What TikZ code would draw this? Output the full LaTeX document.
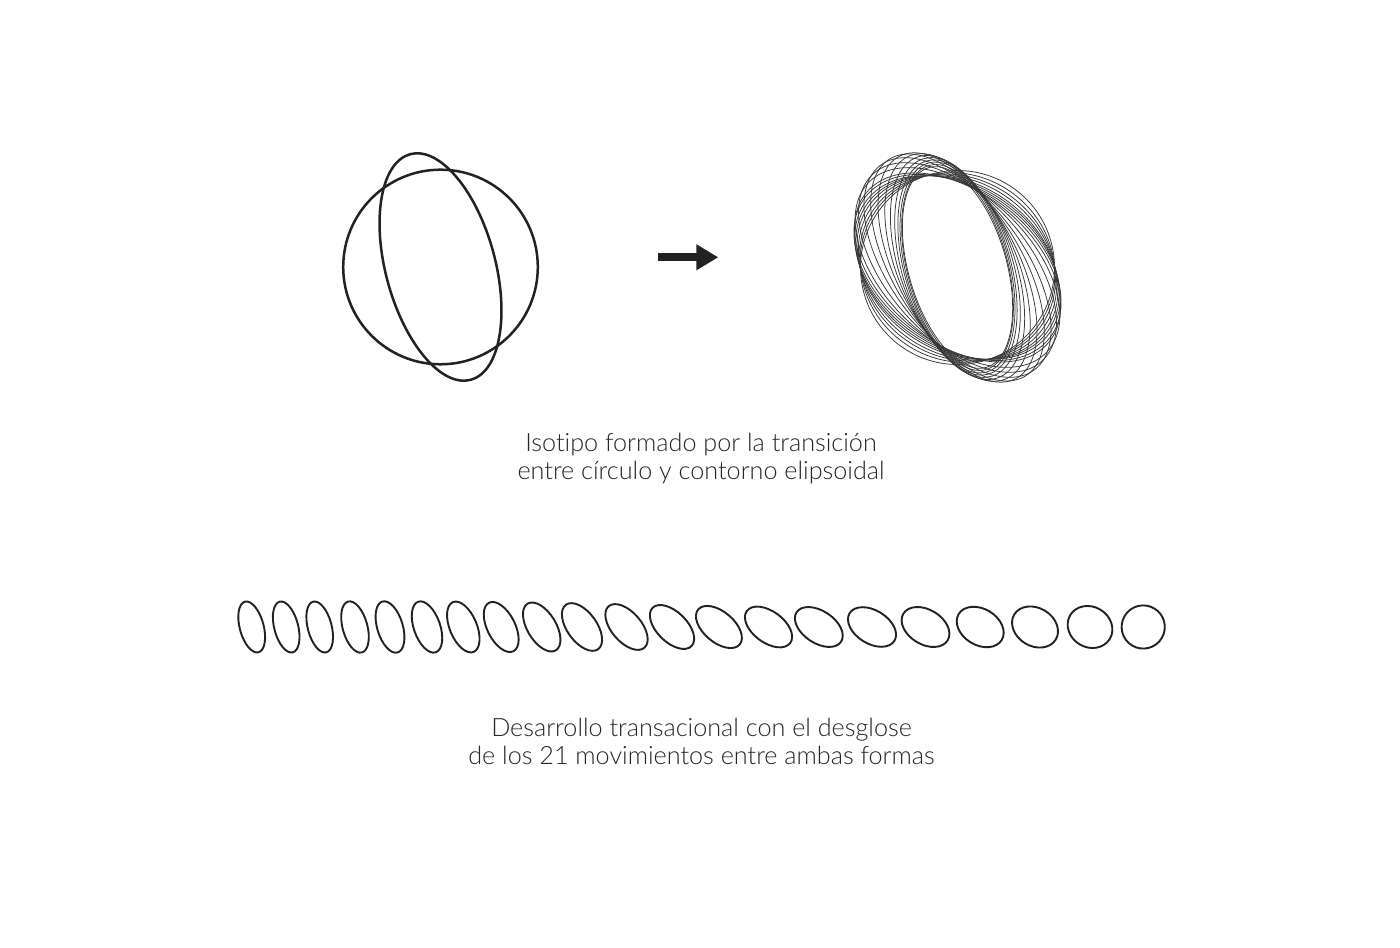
\documentclass[tikz,border=0pt]{standalone}
\usepackage{fontspec}
\setmainfont{Lato Light}[Ligatures=NoCommon]
\usetikzlibrary{arrows.meta}
\definecolor{ink}{HTML}{222222}
\definecolor{txtgray}{HTML}{262626}
\tikzset{
  bold shape/.style={draw=ink, line width=1.25pt},
  row shape/.style={draw=ink, line width=0.95pt},
  fine shape/.style={draw=black!78, line width=0.38pt},
  caption/.style={text=txtgray, font=\fontsize{12.6pt}{14pt}\selectfont, anchor=base, inner sep=0pt},
  bigarrow/.style={draw=ink, line width=3.85pt, -{Triangle[length=11pt,width=12.3pt]}}
}
\begin{document}
\begin{tikzpicture}[x=0.5pt,y=0.5pt]
\useasboundingbox[fill=white] (0,0) rectangle (1400,947);
% left: circle and ellipse
\coordinate (leftc) at (440.5,680);
\draw[bold shape] (leftc) circle [radius=97.3];
\draw[bold shape, shift={(leftc)}, rotate=15] (0,0) ellipse [x radius=54.8, y radius=116.8];
% arrow
\coordinate (arrowfrom) at (658,689.7);
\coordinate (arrowto) at (718.3,689.7);
\draw[bigarrow] (arrowfrom) -- (arrowto);
% right: 21 superposed steps
\coordinate (rightc) at (957.5,679.5);
\foreach \rt/\ra/\rb in {
 16/104/49, 15.5/106/50, 15.5/108.5/51.5, 16.25/111/53, 17.7/114/55,
 20.2/117.5/57, 23.6/121.5/59, 27.7/125.5/61, 32.2/128/63.5, 37/128/66.5,
 41.9/126/70, 46.5/123/73, 50.8/118/75, 53/116/77, 54.5/113/79,
 55/110.5/81, 55/108/83, 55/105/86, 55/102/89, 55/99.5/92.5, 55/97/97}
{
  \draw[fine shape, shift={(rightc)}, rotate=\rt] (0,0) ellipse [x radius=\rb, y radius=\ra];
}
% bottom row: the 21 steps
\foreach \px/\ra/\rb/\rt in {
 251.7/27.09/12.88/15, 286.2/27.09/12.88/14.5, 319.7/27.09/12.88/14.5,
 355/27.29/13.29/15.25, 390/27.48/13.70/16.7, 427/27.67/14.09/19.2,
 463.3/27.86/14.48/22.6, 501.2/28.04/14.87/26.7, 541.7/28.20/15.27/31.2,
 582/28.35/15.69/36.0, 626.5/28.29/15.81/40.9, 672/28.19/15.98/45.5,
 718.9/28.05/16.22/49.8, 768.5/27.86/16.55/53.5, 818.8/27.59/16.99/56.4,
 872/27.23/17.56/58.3, 925.5/26.76/18.28/59, 980.2/26.04/19.03/59,
 1035/25.14/19.98/59, 1090/23.98/21.13/59, 1143.2/22.49/22.49/59}
{
  \draw[row shape, shift={(\px,320)}, rotate=\rt] (0,0) ellipse [x radius=\rb-0.9, y radius=\ra-0.9];
}
% captions
\node[caption] (cap1) at (701,495.3) {Isotipo formado por la transición};
\node[caption] (cap2) at (701,467.7) {entre círculo y contorno elipsoidal};
\node[caption] (cap3) at (701.5,210.3) {Desarrollo transacional con el desglose};
\node[caption] (cap4) at (701.5,182.7) {de los 21 movimientos entre ambas formas};
\end{tikzpicture}
\end{document}
